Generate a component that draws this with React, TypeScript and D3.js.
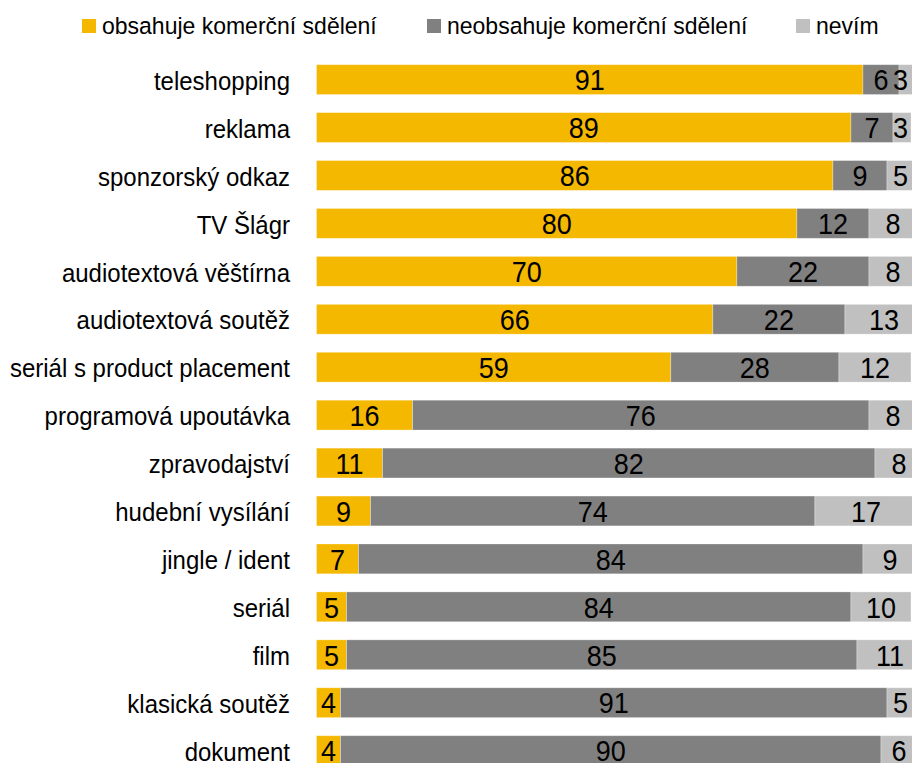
import React from "react";
import * as d3 from "d3";

const categories = [
  "teleshopping",
  "reklama",
  "sponzorský odkaz",
  "TV Šlágr",
  "audiotextová věštírna",
  "audiotextová soutěž",
  "seriál s product placement",
  "programová upoutávka ",
  "zpravodajství",
  "hudební vysílání",
  "jingle / ident",
  "seriál",
  "film",
  "klasická soutěž",
  "dokument",
];
const obsahuje = [91, 89, 86, 80, 70, 66, 59, 16, 11, 9, 7, 5, 5, 4, 4];
const neobsahuje = [6, 7, 9, 12, 22, 22, 28, 76, 82, 74, 84, 84, 85, 91, 90];
const nevim = [3, 3, 5, 8, 8, 13, 12, 8, 8, 17, 9, 10, 11, 5, 6];

const seriesNames = ["obsahuje komerční sdělení", "neobsahuje komerční sdělení", "nevím"];
const seriesColors = ["#F5B800", "#808080", "#C0C0C0"];

const W = 912;
const H = 763;
const FONT = "'Liberation Sans', Arial, sans-serif";

function T({
  x,
  y,
  size,
  anchor,
  sy,
  children,
}: {
  x: number;
  y: number;
  size: number;
  anchor?: string;
  sy: number;
  children: React.ReactNode;
}) {
  return (
    <text
      transform={`translate(${x},${y}) scale(1,${sy})`}
      fontSize={size}
      textAnchor={anchor || "start"}
      fill="#000"
    >
      {children}
    </text>
  );
}

export default function App() {
  const x = d3.scaleLinear().domain([0, 100]).range([316.5, 917]);
  const step = 47.93;
  const y = d3
    .scaleBand<string>()
    .domain(categories)
    .range([64.7 - 0.189 * step, 64.7 - 0.189 * step + categories.length * step])
    .paddingInner(0.378)
    .paddingOuter(0.189);

  const rows = categories.map((c, i) => ({
    cat: c,
    vals: [obsahuje[i], neobsahuje[i], nevim[i]],
  }));

  const legendItems = [
    { sq: 82, tx: 102 },
    { sq: 427, tx: 447 },
    { sq: 796, tx: 816 },
  ];

  const labelRight = 908;

  return (
    <svg
      width={W}
      height={H}
      style={{ position: "absolute", left: 0, top: 0, background: "#fff" }}
      fontFamily={FONT}
    >
      <rect x={0} y={0} width={W} height={H} fill="#fff" />
      {seriesNames.map((n, i) => (
        <g key={n}>
          <rect x={legendItems[i].sq} y={19} width={14} height={14} fill={seriesColors[i]} />
          <T x={legendItems[i].tx} y={34} size={23} sy={1.06}>
            {n}
          </T>
        </g>
      ))}
      {rows.map((r) => {
        const y0 = y(r.cat)!;
        const bh = y.bandwidth();
        const cy = y0 + bh / 2;
        let acc = 0;
        return (
          <g key={r.cat}>
            <T x={290} y={cy + 10.2} size={24} anchor="end" sy={1.08}>
              {r.cat}
            </T>
            {r.vals.map((v, j) => {
              const a = acc;
              acc += v;
              const x0 = x(a);
              const x1 = x(a + v);
              const label = String(v);
              const halfW = label.length * 7.6;
              let cx = (x0 + x1) / 2;
              if (cx + halfW > labelRight) cx = labelRight - halfW;
              return (
                <g key={j}>
                  <rect
                    x={x0}
                    y={y0}
                    width={x1 - x0}
                    height={bh}
                    fill={seriesColors[j]}
                    stroke="#ffffff"
                    strokeOpacity={0.35}
                    strokeWidth={0.8}
                  />
                  <T x={cx} y={cy + 10.8} size={27} anchor="middle" sy={1.08}>
                    {label}
                  </T>
                </g>
              );
            })}
          </g>
        );
      })}
    </svg>
  );
}
